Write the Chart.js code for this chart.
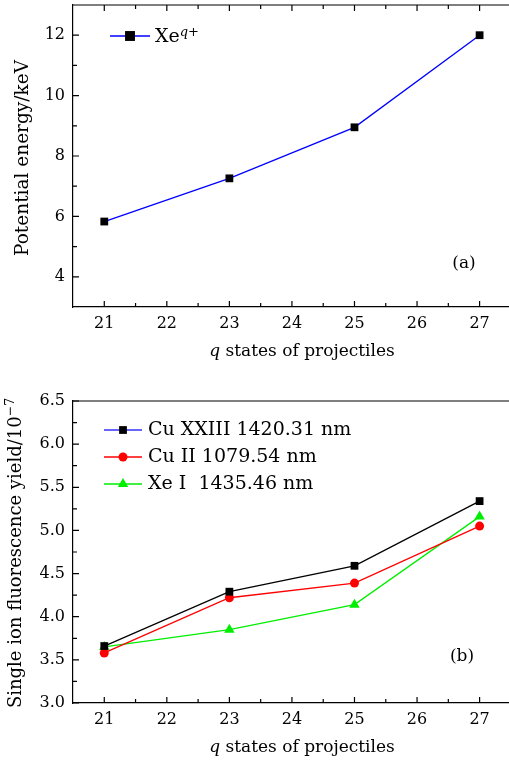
<!DOCTYPE html>
<html>
<head>
<meta charset="utf-8">
<script src="https://cdn.jsdelivr.net/npm/chart.js@4.4.0/dist/chart.umd.min.js"></script>
<style>
  html, body { margin: 0; padding: 0; background: #fff; overflow: hidden; }
  #wrap { position: relative; width: 509px; height: 762px; overflow: hidden; }
  canvas { position: absolute; left: 0; }
  #top { top: 0; }
  #bottom { top: 370px; }
</style>
</head>
<body>
<div id="wrap">
  <canvas id="top" width="509" height="370"></canvas>
  <canvas id="bottom" width="509" height="392"></canvas>
</div>
<script>
// data
const qStates = [21, 23, 25, 27];
const xTicks = [21, 22, 23, 24, 25, 26, 27];

const potentialEnergy = [5.83, 7.26, 8.95, 12.0];
const energyTicks = [4, 6, 8, 10, 12];

const cuXXIII = [3.66, 4.29, 4.59, 5.34];
const cuII = [3.58, 4.22, 4.39, 5.05];
const xeI = [3.65, 3.85, 4.14, 5.16];
const yieldTicks = [3.0, 3.5, 4.0, 4.5, 5.0, 5.5, 6.0, 6.5];

const FONT = '"DejaVu Serif", "Liberation Serif", serif';

function fontOf(p) {
  return (p.italic ? 'italic ' : '') + (p.size || 17) + 'px ' + FONT;
}

// draws text made of several pieces (for superscripts / italics)
function drawRich(ctx, parts, x, y, align) {
  let total = 0;
  parts.forEach(p => { ctx.font = fontOf(p); p.w = ctx.measureText(p.text).width; total += p.w; });
  let cx = align === 'center' ? x - total / 2 : x;
  ctx.textAlign = 'left';
  ctx.textBaseline = 'alphabetic';
  parts.forEach(p => {
    ctx.font = fontOf(p);
    ctx.fillText(p.text, cx, y - (p.rise || 0));
    cx += p.w;
  });
}

function midpoints(vals) {
  const out = [];
  for (let i = 0; i < vals.length - 1; i++) out.push((vals[i] + vals[i + 1]) / 2);
  return out;
}

// chart.js adds room for edge labels; we place the plot box ourselves
function noScalePadding(s) {
  s.paddingTop = 0;
  s.paddingBottom = 0;
  s.paddingLeft = 0;
  s.paddingRight = 0;
}

const framePlugin = {
  id: 'frame',
  afterDraw(chart, args, o) {
    const { ctx, chartArea: a, scales: { x, y } } = chart;
    ctx.save();
    ctx.strokeStyle = '#000';
    ctx.lineWidth = 1.2;

    // top frame line (the right side of the frame is cut off in the figure)
    ctx.beginPath();
    ctx.moveTo(a.left, a.top);
    ctx.lineTo(a.right, a.top);
    ctx.stroke();

    // inward ticks
    const xv = x.ticks.map(t => t.value);
    const yv = y.ticks.map(t => t.value);
    ctx.beginPath();
    const mark = (px, py, dx, dy) => { ctx.moveTo(px, py); ctx.lineTo(px + dx, py + dy); };
    xv.forEach(v => {
      const px = x.getPixelForValue(v);
      mark(px, a.bottom, 0, -6);
      if (o.topTicks) mark(px, a.top, 0, 6);
    });
    midpoints(xv).forEach(v => {
      const px = x.getPixelForValue(v);
      mark(px, a.bottom, 0, -4);
      if (o.topTicks) mark(px, a.top, 0, 4);
    });
    yv.forEach(v => mark(a.left, y.getPixelForValue(v), 6, 0));
    midpoints(yv).forEach(v => mark(a.left, y.getPixelForValue(v), 4, 0));
    ctx.stroke();

    ctx.fillStyle = '#000';

    // axis titles
    drawRich(ctx, [{ text: 'q', italic: true }, { text: ' states of projectiles' }],
      o.xTitle.x, o.xTitle.y, 'center');
    ctx.save();
    ctx.translate(o.yTitle.x, (a.top + a.bottom) / 2 + (o.yTitle.dy || 0));
    ctx.rotate(-Math.PI / 2);
    drawRich(ctx, o.yTitle.parts, 0, 0, 'center');
    ctx.restore();

    // panel label
    drawRich(ctx, [{ text: o.panel.text }], o.panel.x, o.panel.y, 'center');

    // legend: line + marker + label
    const L = o.legend;
    chart.data.datasets.forEach((ds, i) => {
      const cy = L.y + i * L.dy;
      ctx.strokeStyle = ds.legendColor || ds.borderColor;
      ctx.lineWidth = 1.3;
      ctx.beginPath();
      ctx.moveTo(L.x0, cy);
      ctx.lineTo(L.x1, cy);
      ctx.stroke();
      ctx.fillStyle = ds.pointBackgroundColor;
      Chart.helpers.drawPoint(ctx, {
        pointStyle: ds.pointStyle, radius: L.radius || ds.pointRadius, rotation: 0, borderWidth: 0
      }, (L.x0 + L.x1) / 2, cy);
      ctx.fillStyle = '#000';
      drawRich(ctx, ds.labelParts || [{ text: ds.label, size: 19 }], L.textX, cy + L.textDy, 'left');
    });
    ctx.restore();
  }
};

function makeChart(id, opts) {
  const canvas = document.getElementById(id);
  return new Chart(canvas, {
    type: 'line',
    data: { datasets: opts.datasets },
    plugins: [framePlugin],
    options: {
      responsive: false,
      animation: false,
      devicePixelRatio: 1,
      layout: { autoPadding: false, padding: { top: opts.padTop, right: 0, left: 0, bottom: 0 } },
      plugins: {
        legend: { display: false },
        tooltip: { enabled: false },
        frame: opts.frame
      },
      elements: { line: { borderWidth: 1.3, tension: 0 } },
      scales: {
        x: {
          type: 'linear',
          min: 20.5,
          max: 27.47, // the frame runs a little past the window edge
          afterBuildTicks: s => { s.ticks = xTicks.map(v => ({ value: v })); },
          afterFit: s => { s.height = opts.xHeight; noScalePadding(s); },
          grid: { display: false, drawTicks: false },
          border: { display: true, color: '#000', width: 1.2 },
          ticks: { color: '#000', padding: 7, font: { family: FONT, size: 16 } }
        },
        y: {
          type: 'linear',
          min: opts.yMin,
          max: opts.yMax,
          afterBuildTicks: s => { s.ticks = opts.yTicks.map(v => ({ value: v })); },
          afterFit: s => { s.width = 73; noScalePadding(s); },
          grid: { display: false, drawTicks: false },
          border: { display: true, color: '#000', width: 1.2 },
          ticks: {
            color: '#000', padding: 8, font: { family: FONT, size: 16 },
            callback: v => v.toFixed(opts.yDecimals)
          }
        }
      }
    }
  });
}

function series(values, style) {
  return Object.assign({
    data: qStates.map((q, i) => ({ x: q, y: values[i] })),
    fill: false,
    clip: false,
    pointBorderWidth: 0
  }, style);
}

// (a) potential energy
makeChart('top', {
  padTop: 5,
  xHeight: 63,
  yMin: 3, yMax: 13, yTicks: energyTicks, yDecimals: 0,
  datasets: [
    series(potentialEnergy, {
      label: 'Xeq+',
      labelParts: [{ text: 'Xe', size: 19 }, { text: 'q', italic: true, size: 13, rise: 6 }, { text: '+', size: 13, rise: 6 }],
      borderColor: '#0000ff', pointStyle: 'rect', pointRadius: 5.5, pointBackgroundColor: '#000'
    })
  ],
  frame: {
    topTicks: true,
    xTitle: { x: 302, y: 356 },
    yTitle: { x: 28, dy: 2, parts: [{ text: 'Potential energy/keV', size: 18.5 }] },
    panel: { text: '(a)', x: 464, y: 268 },
    legend: { x0: 110, x1: 150, y: 36, dy: 0, textX: 155, textDy: 6, radius: 7 }
  }
});

// (b) single ion fluorescence yield
makeChart('bottom', {
  padTop: 31,
  xHeight: 59,
  yMin: 3.0, yMax: 6.5, yTicks: yieldTicks, yDecimals: 1,
  datasets: [
    series(cuXXIII, {
      label: 'Cu XXIII 1420.31 nm', borderColor: '#000', legendColor: '#3333ff',
      pointStyle: 'rect', pointRadius: 5.5, pointBackgroundColor: '#000'
    }),
    series(cuII, {
      label: 'Cu II 1079.54 nm', borderColor: '#ff0000',
      pointStyle: 'circle', pointRadius: 4.5, pointBackgroundColor: '#ff0000'
    }),
    series(xeI, {
      label: 'Xe I  1435.46 nm', borderColor: '#00ee00',
      pointStyle: 'triangle', pointRadius: 6, pointBackgroundColor: '#00ee00'
    })
  ],
  frame: {
    topTicks: false,
    xTitle: { x: 302, y: 382 },
    yTitle: { x: 21, dy: 1, parts: [{ text: 'Single ion fluorescence yield/10', size: 18 }, { text: '−7', size: 12.5, rise: 7 }] },
    panel: { text: '(b)', x: 462, y: 291 },
    legend: { x0: 104, x1: 142, y: 60, dy: 27, textX: 148, textDy: 5 }
  }
});
</script>
</body>
</html>
